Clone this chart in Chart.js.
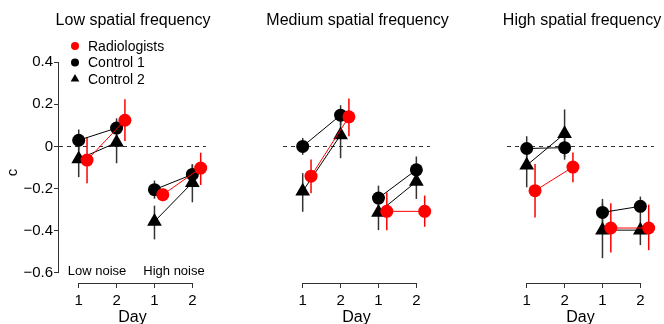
<!DOCTYPE html>
<html>
<head>
<meta charset="utf-8">
<script src="https://cdn.jsdelivr.net/npm/chart.js@4.4.0/dist/chart.umd.min.js"></script>
<style>
    body { margin: 0; background: #fff; }
    #wrap { position: relative; width: 664px; height: 324px; overflow: hidden; font-family: "Liberation Sans", Arial, sans-serif; }
    canvas { position: absolute; left: 0; top: 0; }
    .lbl { position: absolute; color: #000; white-space: nowrap; transform: translate(-50%, -50%); line-height: 1; }
</style>
</head>
<body>
<div id="wrap">
    <canvas id="p0" width="664" height="324"></canvas>
    <canvas id="p1" width="664" height="324"></canvas>
    <canvas id="p2" width="664" height="324"></canvas>
</div>
<script>
// Panels and axis labels
const panelTitles = ['Low spatial frequency', 'Medium spatial frequency', 'High spatial frequency'];
const seriesNames = ['Radiologists', 'Control 1', 'Control 2'];
const xTicks = [1, 2, 3, 4];              // low noise day 1, 2 / high noise day 1, 2
const xTickLabels = ['1', '2', '1', '2'];
const xTitle = 'Day';
const yTicks = [0.4, 0.2, 0, -0.2, -0.4, -0.6];
const noiseLabels = ['Low noise', 'High noise'];

// Criterion c per panel: [low d1, low d2, high d1, high d2]
const radiologists = [
    [-0.065, 0.124, -0.229, -0.103],
    [-0.141, 0.140, -0.308, -0.308],
    [-0.210, -0.098, -0.387, -0.387]
];
const radiologistsLo = [
    [-0.175, 0.025, -0.260, -0.183],
    [-0.222, 0.048, -0.397, -0.381],
    [-0.337, -0.170, -0.503, -0.492]
];
const radiologistsHi = [
    [0.044, 0.224, -0.200, -0.030],
    [-0.062, 0.227, -0.219, -0.233],
    [-0.083, -0.029, -0.270, -0.276]
];

const control1 = [
    [0.029, 0.087, -0.205, -0.133],
    [0.000, 0.148, -0.245, -0.111],
    [-0.010, -0.006, -0.313, -0.284]
];
const control1Lo = [
    [-0.020, 0.040, -0.248, -0.180],
    [-0.040, 0.100, -0.300, -0.170],
    [-0.070, -0.063, -0.370, -0.330]
];
const control1Hi = [
    [0.080, 0.133, -0.162, -0.086],
    [0.040, 0.195, -0.186, -0.048],
    [0.048, 0.050, -0.249, -0.238]
];

const control2 = [
    [-0.060, 0.018, -0.356, -0.172],
    [-0.213, 0.054, -0.313, -0.167],
    [-0.090, 0.060, -0.397, -0.397]
];
const control2Lo = [
    [-0.146, -0.080, -0.441, -0.265],
    [-0.310, -0.056, -0.397, -0.249],
    [-0.194, -0.050, -0.530, -0.468]
];
const control2Hi = [
    [0.030, 0.120, -0.281, -0.085],
    [-0.127, 0.150, -0.230, -0.090],
    [0.020, 0.175, -0.270, -0.330]
];

const RED = '#ff0000';
const redOffset = 0.22;
const FONT = '"Liberation Sans", Arial, sans-serif';

// left / right padding of each canvas so the plot areas line up with the reference
const panelPad = [
    { left: 0, right: 458 },
    { left: 283, right: 234 },
    { left: 507, right: 10 }
];

const wrap = document.getElementById('wrap');

function addLabel(text, x, y, size) {
    const d = document.createElement('div');
    d.className = 'lbl';
    d.style.left = x + 'px';
    d.style.top = y + 'px';
    d.style.fontSize = size + 'px';
    d.textContent = text;
    wrap.appendChild(d);
}

/**
 * Build the scatter datasets of one panel (one short line per noise level)
 */
function buildDatasets(p) {
    const series = [
        { vals: radiologists[p], lo: radiologistsLo[p], hi: radiologistsHi[p], color: RED, errColor: RED, style: 'circle', r: 6.5, dx: redOffset },
        { vals: control1[p], lo: control1Lo[p], hi: control1Hi[p], color: '#000', errColor: '#333', style: 'circle', r: 6.5, dx: 0 },
        { vals: control2[p], lo: control2Lo[p], hi: control2Hi[p], color: '#000', errColor: '#333', style: 'triangle', r: 8.5, dx: 0 }
    ];
    const datasets = [];
    series.forEach((s, si) => {
        [0, 2].forEach(start => {
            const pts = [start, start + 1].map(i => ({
                x: xTicks[i] + s.dx,
                y: s.vals[i],
                lo: s.lo[i],
                hi: s.hi[i]
            }));
            datasets.push({
                label: seriesNames[si],
                data: pts,
                showLine: true,
                borderColor: s.color,
                borderWidth: 1,
                backgroundColor: s.color,
                pointBackgroundColor: s.color,
                pointBorderColor: s.color,
                pointBorderWidth: 0,
                pointStyle: s.style,
                pointRadius: s.r,
                errColor: s.errColor
            });
        });
    });
    return datasets;
}

// error bars, zero line and R-style axis lines
const extrasPlugin = {
    id: 'extras',
    beforeDatasetsDraw(chart) {
        const { ctx, chartArea, scales: { x, y } } = chart;
        ctx.save();
        // dashed zero line
        ctx.strokeStyle = '#333';
        ctx.lineWidth = 1;
        ctx.setLineDash([4, 4]);
        ctx.beginPath();
        ctx.moveTo(chartArea.left, Math.round(y.getPixelForValue(0)) + 0.5);
        ctx.lineTo(chartArea.right, Math.round(y.getPixelForValue(0)) + 0.5);
        ctx.stroke();
        ctx.setLineDash([]);

        // error bars
        chart.data.datasets.forEach(ds => {
            ctx.strokeStyle = ds.errColor;
            ctx.lineWidth = 1.5;
            ds.data.forEach(pt => {
                const px = x.getPixelForValue(pt.x);
                ctx.beginPath();
                ctx.moveTo(px, y.getPixelForValue(pt.lo));
                ctx.lineTo(px, y.getPixelForValue(pt.hi));
                ctx.stroke();
            });
        });

        // x axis line from first to last tick
        ctx.strokeStyle = '#333';
        ctx.lineWidth = 1;
        ctx.beginPath();
        ctx.moveTo(x.getPixelForValue(xTicks[0]), chartArea.bottom + 0.5);
        ctx.lineTo(x.getPixelForValue(xTicks[xTicks.length - 1]), chartArea.bottom + 0.5);
        ctx.stroke();

        // y axis line (first panel only)
        if (chart.options.scales.y.display) {
            ctx.beginPath();
            ctx.moveTo(chartArea.left - 0.5, y.getPixelForValue(0.4));
            ctx.lineTo(chartArea.left - 0.5, y.getPixelForValue(-0.6));
            ctx.stroke();
        }
        ctx.restore();
    },
    afterDraw(chart) {
        if (!chart.options.showKey) return;
        const { ctx } = chart;
        ctx.save();
        ctx.font = '14px ' + FONT;
        ctx.textBaseline = 'middle';
        const rows = [
            { color: RED, style: 'circle' },
            { color: '#000', style: 'circle' },
            { color: '#000', style: 'triangle' }
        ];
        rows.forEach((row, i) => {
            const cy = 46 + i * 16.5;
            ctx.fillStyle = row.color;
            ctx.strokeStyle = row.color;
            Chart.helpers.drawPoint(ctx, { pointStyle: row.style, radius: row.style === 'triangle' ? 5 : 4, borderWidth: 0 }, 75, cy);
            ctx.fillStyle = '#000';
            ctx.fillText(seriesNames[i], 88, cy + 1);
        });
        ctx.restore();
    }
};

const charts = panelTitles.map((title, p) => {
    const first = p === 0;
    return new Chart(document.getElementById('p' + p), {
        type: 'scatter',
        data: { datasets: buildDatasets(p) },
        options: {
            responsive: false,
            animation: false,
            showKey: first,
            layout: { padding: { left: panelPad[p].left, right: panelPad[p].right, top: 62, bottom: 10 } },
            plugins: { legend: { display: false }, tooltip: { enabled: false }, title: { display: false } },
            scales: {
                x: {
                    type: 'linear',
                    min: 0.48,
                    max: 4.36,
                    afterBuildTicks: axis => { axis.ticks = xTicks.map(v => ({ value: v })); },
                    afterFit: axis => { axis.height = 31; },
                    ticks: {
                        callback: (v) => xTickLabels[xTicks.indexOf(v)],
                        color: '#000',
                        font: { size: 15, family: FONT, lineHeight: 1 },
                        padding: 5,
                        maxRotation: 0
                    },
                    grid: { display: true, drawOnChartArea: false, drawTicks: true, tickLength: 5, color: '#333' },
                    border: { display: false },
                    title: { display: false }
                },
                y: {
                    display: first,
                    min: -0.6476,
                    max: 0.4,
                    afterBuildTicks: axis => { axis.ticks = yTicks.map(v => ({ value: v })); },
                    afterFit: axis => { if (first) axis.width = 59; },
                    ticks: {
                        callback: v => v === 0 ? '0' : (v < 0 ? '\u2212' + Math.abs(v).toFixed(1) : v.toFixed(1)),
                        color: '#000',
                        font: { size: 15, family: FONT },
                        padding: 1
                    },
                    grid: { display: true, drawOnChartArea: false, drawTicks: true, tickLength: 5, color: '#333' },
                    border: { display: false },
                    title: { display: true, text: 'c', color: '#000', padding: { top: 4, bottom: 0 },
                        font: { size: 15, family: FONT } }
                }
            },
            clip: false
        },
        plugins: [extrasPlugin]
    });
});

// panel titles, x titles and noise labels as text
const titleCenters = [133, 357.5, 582];
panelTitles.forEach((t, i) => addLabel(t, titleCenters[i], 20, 16));
charts.forEach(c => addLabel(xTitle, (c.chartArea.left + c.chartArea.right) / 2, 317, 16));
addLabel(noiseLabels[0], 97, 270, 13);
addLabel(noiseLabels[1], 174, 270, 13);
</script>
</body>
</html>
